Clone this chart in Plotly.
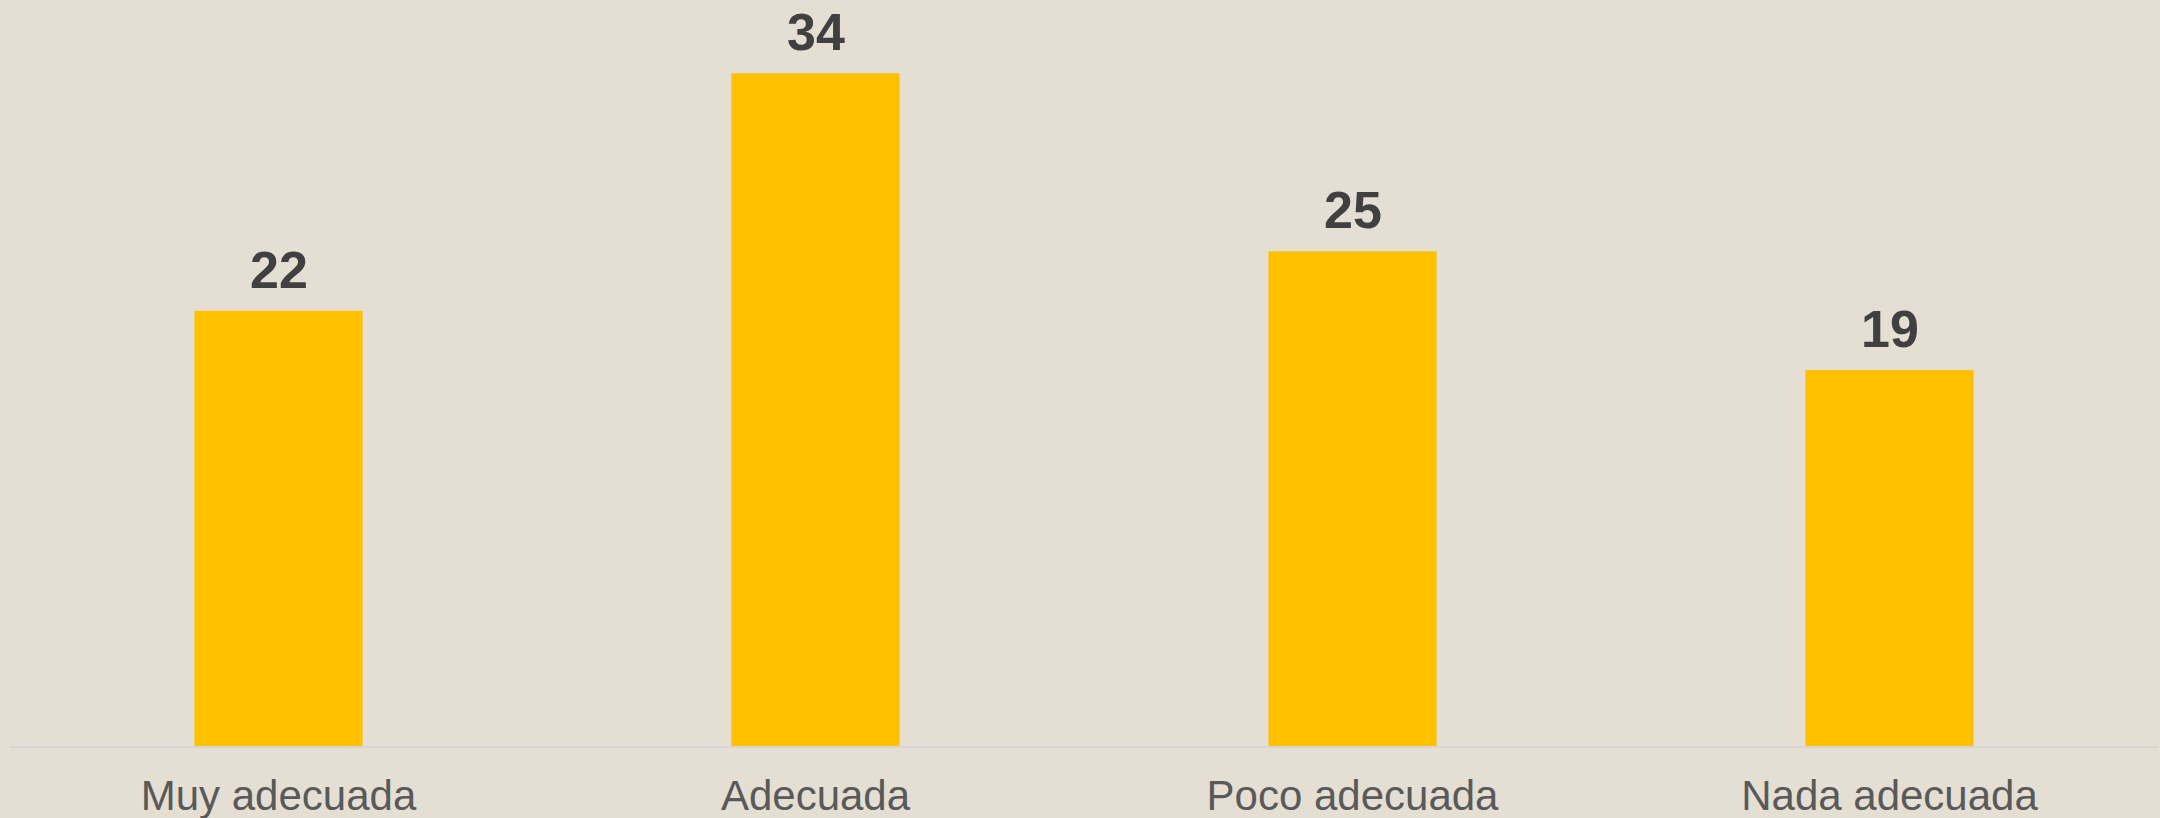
import plotly.graph_objects as go

categories = ["Muy adecuada", "Adecuada", "Poco adecuada", "Nada adecuada"]
values = [22, 34, 25, 19]

bg = "#E4DED3"
bar_color = "#FFC000"
font_family = "Liberation Sans, Arial, sans-serif"

fig = go.Figure(
    go.Bar(
        x=categories,
        y=values,
        marker=dict(color=bar_color, line=dict(width=0)),
    )
)

# value labels above each bar
for cat, val in zip(categories, values):
    fig.add_annotation(
        x=cat,
        y=val,
        text=f"<b>{val}</b>",
        showarrow=False,
        yanchor="bottom",
        yshift=10,
        font=dict(family=font_family, size=52, color="#404040"),
    )

fig.update_layout(
    width=2160,
    height=818,
    paper_bgcolor=bg,
    plot_bgcolor=bg,
    margin=dict(l=10, r=2, t=0, b=72),
    bargap=0.687,
    showlegend=False,
    font=dict(family=font_family),
)

fig.update_xaxes(
    showline=True,
    linecolor="#D6D6D6",
    linewidth=2,
    showgrid=False,
    ticks="",
    automargin=False,
    ticklabelstandoff=12,
    tickfont=dict(size=42, color="#595959"),
)
fig.update_yaxes(
    range=[0, 37.7],
    visible=False,
    showgrid=False,
    zeroline=False,
)

fig.write_html("out.html")
